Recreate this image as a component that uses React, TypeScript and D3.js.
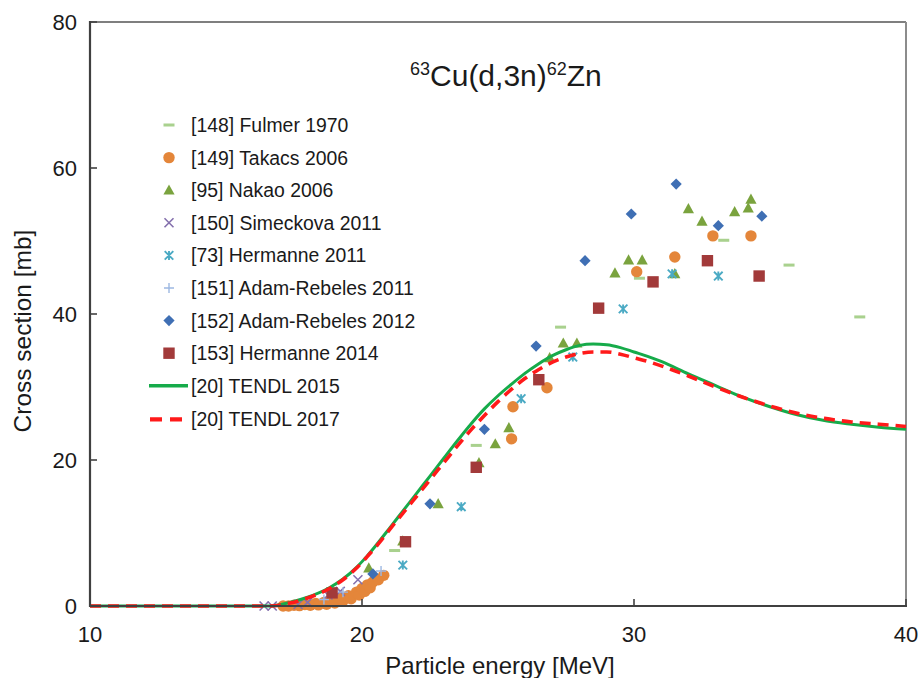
import React from "react";
import * as d3 from "d3";

// Experimental data: [energy MeV, cross section mb]
const fulmer1970: [number, number][] = [
  [21.2, 7.6], [24.2, 22.0], [27.3, 38.2], [30.2, 44.9], [33.3, 50.1], [35.7, 46.7], [38.3, 39.6],
];
const takacs2006: [number, number][] = [
  [17.1, 0.0], [17.3, 0.0], [17.5, 0.1], [17.7, 0.05], [17.9, 0.2], [18.1, 0.1], [18.3, 0.35],
  [18.4, 0.15], [18.6, 0.5], [18.7, 0.25], [18.9, 0.7], [19.0, 0.4], [19.2, 1.0], [19.3, 0.7],
  [19.5, 1.4], [19.6, 1.0], [19.8, 1.9], [19.9, 1.5], [20.0, 2.4], [20.1, 2.0], [20.2, 2.9],
  [20.3, 2.5], [20.4, 3.3], [20.6, 3.6], [20.8, 4.2],
  [25.5, 22.9], [25.55, 27.3], [26.8, 29.9], [30.1, 45.8], [31.5, 47.8], [32.9, 50.7], [34.3, 50.7],
];
const nakao2006: [number, number][] = [
  [20.25, 5.2], [21.5, 8.9], [22.8, 14.0], [24.3, 19.6], [24.9, 22.2], [25.4, 24.4], [26.9, 34.0],
  [27.4, 36.0], [27.9, 36.0], [29.3, 45.6], [29.8, 47.4], [30.3, 47.4], [31.5, 45.5], [32.0, 54.4],
  [32.5, 52.7], [33.7, 54.0], [34.2, 54.5], [34.3, 55.7],
];
const simeckova2011: [number, number][] = [
  [16.4, 0.0], [16.7, 0.0], [17.65, 0.2], [18.0, 0.5], [18.75, 1.5], [19.2, 2.0], [19.85, 3.6],
];
const hermanne2011: [number, number][] = [
  [21.5, 5.6], [23.65, 13.6], [25.85, 28.4], [27.75, 34.1], [29.6, 40.7], [31.4, 45.5], [33.1, 45.2],
];
const adamRebeles2011: [number, number][] = [
  [18.6, 0.9], [19.3, 1.9], [20.7, 4.8],
];
const adamRebeles2012: [number, number][] = [
  [20.4, 4.4], [22.5, 14.0], [24.5, 24.2], [26.4, 35.6], [28.2, 47.3], [29.9, 53.7], [31.55, 57.8],
  [33.1, 52.1], [34.7, 53.4],
];
const hermanne2014: [number, number][] = [
  [18.9, 1.8], [21.6, 8.8], [24.2, 19.0], [26.5, 31.0], [28.7, 40.8], [30.7, 44.4], [32.7, 47.3],
  [34.6, 45.2],
];

// Evaluated excitation functions
const tendl2015: [number, number][] = [
  [10, 0], [16.6, 0], [17.35, 0.5], [18.0, 1.2], [18.8, 2.5], [19.3, 3.7], [19.8, 5.3], [20.2, 6.9],
  [20.6, 8.7], [21.0, 10.6], [21.5, 13.0], [22.0, 15.4], [22.5, 17.8], [23.0, 20.2], [23.5, 22.6],
  [24.0, 24.9], [24.5, 27.0], [25.0, 28.8], [25.5, 30.4], [26.0, 31.9], [26.5, 33.2], [27.0, 34.3],
  [27.5, 35.1], [28.0, 35.7], [28.5, 35.9], [29.0, 35.8], [29.5, 35.4], [30.0, 34.8], [30.5, 34.2],
  [31.0, 33.5], [32.0, 31.8], [33.0, 30.2], [34.0, 28.6], [35.0, 27.3], [36.0, 26.2], [37.0, 25.4],
  [38.0, 24.9], [39.0, 24.5], [40.0, 24.2],
];
const tendl2017: [number, number][] = [
  [10, 0], [16.6, 0], [17.35, 0.4], [18.0, 1.1], [18.8, 2.4], [19.3, 3.6], [19.8, 5.2], [20.2, 6.8],
  [20.6, 8.5], [21.0, 10.4], [21.5, 12.7], [22.0, 15.0], [22.5, 17.3], [23.0, 19.6], [23.5, 21.9],
  [24.0, 24.1], [24.5, 26.1], [25.0, 28.0], [25.5, 29.7], [26.0, 31.2], [26.5, 32.4], [27.0, 33.4],
  [27.5, 34.1], [28.0, 34.6], [28.5, 34.8], [29.0, 34.8], [29.5, 34.5], [30.0, 34.0], [30.5, 33.5],
  [31.0, 32.9], [32.0, 31.5], [33.0, 30.0], [34.0, 28.6], [35.0, 27.4], [36.0, 26.4], [37.0, 25.7],
  [38.0, 25.2], [39.0, 24.9], [40.0, 24.6],
];

const xTicks = [10, 20, 30, 40];
const yTicks = [0, 20, 40, 60, 80];

type Shape = "dash" | "circle" | "triangle" | "x" | "asterisk" | "plus" | "diamond" | "square";
interface Series { label: string; data: [number, number][]; shape: Shape; color: string; }

const scatterSeries: Series[] = [
  { label: "[148] Fulmer 1970", data: fulmer1970, shape: "dash", color: "#a9d18e" },
  { label: "[149] Takacs 2006", data: takacs2006, shape: "circle", color: "#e4863a" },
  { label: "[95] Nakao 2006", data: nakao2006, shape: "triangle", color: "#7aa33e" },
  { label: "[150] Simeckova 2011", data: simeckova2011, shape: "x", color: "#8470ad" },
  { label: "[73] Hermanne 2011", data: hermanne2011, shape: "asterisk", color: "#4baac4" },
  { label: "[151] Adam-Rebeles 2011", data: adamRebeles2011, shape: "plus", color: "#9db8e2" },
  { label: "[152] Adam-Rebeles 2012", data: adamRebeles2012, shape: "diamond", color: "#3f6fb4" },
  { label: "[153] Hermanne 2014", data: hermanne2014, shape: "square", color: "#a23a3a" },
];

const FONT = "'Liberation Sans', Arial, Helvetica, sans-serif";

function Marker({ shape, color, x, y }: { shape: Shape; color: string; x: number; y: number }) {
  const t = `translate(${x},${y})`;
  switch (shape) {
    case "dash":
      return <rect x={x - 5.5} y={y - 1.5} width={11} height={3} fill={color} />;
    case "circle":
      return <circle cx={x} cy={y} r={5.7} fill={color} />;
    case "triangle":
      return <path transform={t} d="M0,-5.8L5.6,4.4L-5.6,4.4Z" fill={color} />;
    case "square":
      return <rect x={x - 5.7} y={y - 5.7} width={11.4} height={11.4} fill={color} />;
    case "diamond":
      return <path transform={t} d="M0,-5.6L5.6,0L0,5.6L-5.6,0Z" fill={color} />;
    case "x":
      return (
        <path transform={t} d="M-4.5,-4.5L4.5,4.5M-4.5,4.5L4.5,-4.5" stroke={color} strokeWidth={1.6} fill="none" />
      );
    case "plus":
      return (
        <path transform={t} d="M-5,0L5,0M0,-5L0,5" stroke={color} strokeWidth={1.4} fill="none" />
      );
    case "asterisk":
      return (
        <path
          transform={t}
          d="M-4.3,-4.3L4.3,4.3M-4.3,4.3L4.3,-4.3M0,-4.5L0,4.5"
          stroke={color}
          strokeWidth={1.9}
          fill="none"
        />
      );
  }
  return null;
}

export default function App() {
  const width = 921;
  const height = 678;
  const left = 90, right = 906, top = 22, bottom = 606;

  const x = d3.scaleLinear().domain([10, 40]).range([left, right]);
  const y = d3.scaleLinear().domain([0, 80]).range([bottom, top]);

  const line = d3
    .line<[number, number]>()
    .x((d) => x(d[0]))
    .y((d) => y(d[1]))
    .curve(d3.curveMonotoneX);

  const legendX = 169;
  const legendTextX = 191;
  const legendY0 = 125;
  const legendStep = 32.6;
  const legendFont = 19.4;

  return (
    <svg
      width={width}
      height={height}
      style={{ position: "absolute", left: 0, top: 0, background: "#fff" }}
      fontFamily={FONT}
    >
      <rect x={0} y={0} width={width} height={height} fill="#fff" />

      {/* plot frame */}
      <line x1={left} y1={top} x2={right} y2={top} stroke="#7f7f7f" strokeWidth={2} />
      <line x1={right} y1={top} x2={right} y2={bottom} stroke="#8c8c8c" strokeWidth={2} />

      {/* data markers */}
      <g>
        {scatterSeries.map((s) =>
          s.data.map((d, i) => (
            <Marker key={s.label + i} shape={s.shape} color={s.color} x={x(d[0])} y={y(d[1])} />
          ))
        )}
      </g>

      {/* evaluated curves */}
      <path d={line(tendl2015) || ""} fill="none" stroke="#16ab4a" strokeWidth={3} />
      <path
        d={line(tendl2017) || ""}
        fill="none"
        stroke="#ff1a1a"
        strokeWidth={3.6}
        strokeDasharray="11,7"
      />

      {/* axes */}
      <line x1={left} y1={top - 1} x2={left} y2={bottom + 1} stroke="#404040" strokeWidth={2.2} />
      <line x1={left - 1} y1={bottom} x2={right + 1} y2={bottom} stroke="#404040" strokeWidth={2.2} />
      {yTicks.map((t) => (
        <g key={"y" + t}>
          <line x1={left} x2={left + 7} y1={y(t)} y2={y(t)} stroke="#404040" strokeWidth={1.6} />
          <text x={77} y={y(t)} dy="0.36em" textAnchor="end" fontSize={22} fill="#1a1a1a">
            {t}
          </text>
        </g>
      ))}
      {xTicks.map((t) => (
        <g key={"x" + t}>
          <line x1={x(t)} x2={x(t)} y1={bottom} y2={bottom - 7} stroke="#404040" strokeWidth={1.6} />
          <text x={x(t)} y={642} textAnchor="middle" fontSize={22} fill="#1a1a1a">
            {t}
          </text>
        </g>
      ))}

      {/* axis titles */}
      <text x={500} y={674} textAnchor="middle" fontSize={24} fill="#1a1a1a">
        Particle energy [MeV]
      </text>
      <text
        transform={`translate(31,331) rotate(-90)`}
        textAnchor="middle"
        fontSize={24.5}
        fill="#1a1a1a"
      >
        Cross section [mb]
      </text>

      {/* reaction label */}
      <text x={410} y={86} fontSize={30} fill="#1a1a1a">
        <tspan fontSize={18} dy={-11}>63</tspan>
        <tspan dy={11}>Cu(d,3n)</tspan>
        <tspan fontSize={18} dy={-11}>62</tspan>
        <tspan dy={11}>Zn</tspan>
      </text>

      {/* legend */}
      <g>
        {scatterSeries.map((s, i) => {
          const ly = legendY0 + i * legendStep;
          return (
            <g key={"lg" + s.label}>
              <Marker shape={s.shape} color={s.color} x={legendX} y={ly} />
              <text x={legendTextX} y={ly} dy="0.36em" fontSize={legendFont} fill="#1a1a1a">
                {s.label}
              </text>
            </g>
          );
        })}
        <line
          x1={149}
          x2={188}
          y1={legendY0 + 8 * legendStep}
          y2={legendY0 + 8 * legendStep}
          stroke="#16ab4a"
          strokeWidth={3.6}
        />
        <text x={legendTextX} y={legendY0 + 8 * legendStep} dy="0.36em" fontSize={legendFont} fill="#1a1a1a">
          [20] TENDL 2015
        </text>
        <line
          x1={150}
          x2={186}
          y1={legendY0 + 9 * legendStep + 1}
          y2={legendY0 + 9 * legendStep + 1}
          stroke="#ff1a1a"
          strokeWidth={4.2}
          strokeDasharray="12,8"
        />
        <text x={legendTextX} y={legendY0 + 9 * legendStep + 1} dy="0.36em" fontSize={legendFont} fill="#1a1a1a">
          [20] TENDL 2017
        </text>
      </g>
    </svg>
  );
}
